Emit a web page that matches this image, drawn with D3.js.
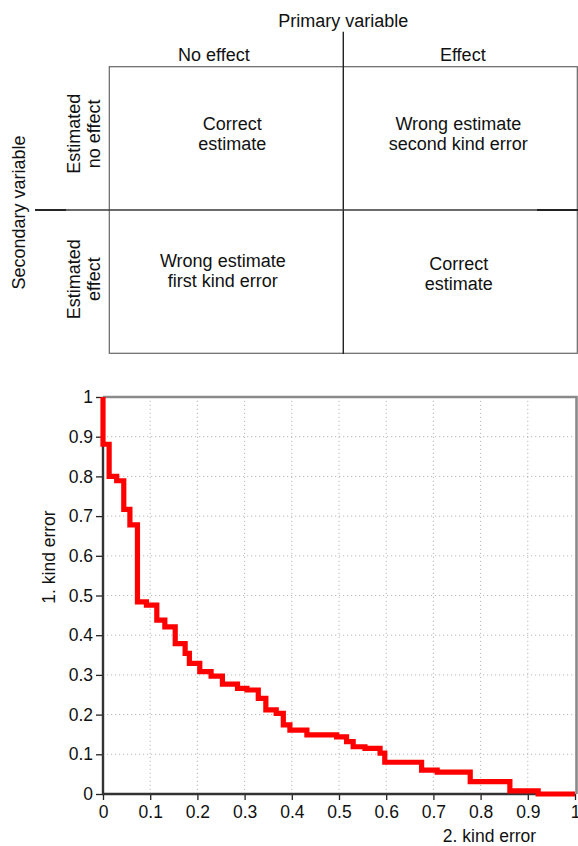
<!DOCTYPE html>
<html>
<head>
<meta charset="utf-8">
<script src="https://cdn.jsdelivr.net/npm/d3@7"></script>
<style>
  html, body { margin: 0; padding: 0; background: #fff; }
  svg { display: block; }
  text { font-family: "Liberation Sans", Arial, Helvetica, sans-serif; fill: #111; }
</style>
</head>
<body>
<script>
// ---------- data ----------
const primaryTitle = "Primary variable";
const secondaryTitle = "Secondary variable";
const columnLabels = ["No effect", "Effect"];
const rowLabels = [["Estimated", "no effect"], ["Estimated", "effect"]];
const cellTexts = [
  [["Correct", "estimate"], ["Wrong estimate", "second kind error"]],
  [["Wrong estimate", "first kind error"], ["Correct", "estimate"]]
];

const secondKindError = [0, 0, 0.013, 0.029, 0.044, 0.057, 0.073, 0.092, 0.114, 0.131, 0.153, 0.174, 0.183,
  0.205, 0.229, 0.253, 0.285, 0.305, 0.329, 0.345, 0.367, 0.382, 0.396, 0.432, 0.495,
  0.516, 0.530, 0.555, 0.587, 0.597, 0.675, 0.708, 0.778, 0.862, 0.922, 1.0];
const firstKindError = [1, 0.881, 0.800, 0.789, 0.717, 0.678, 0.484, 0.476, 0.438, 0.421, 0.379, 0.354, 0.329,
  0.308, 0.297, 0.277, 0.266, 0.262, 0.241, 0.212, 0.203, 0.174, 0.161, 0.149, 0.144,
  0.132, 0.119, 0.115, 0.103, 0.080, 0.060, 0.055, 0.031, 0.008, 0.000, 0.000];

const tickValues = [0, 0.1, 0.2, 0.3, 0.4, 0.5, 0.6, 0.7, 0.8, 0.9, 1];
const tickLabels = ["0", "0.1", "0.2", "0.3", "0.4", "0.5", "0.6", "0.7", "0.8", "0.9", "1"];
const xTitle = "2. kind error";
const yTitle = "1. kind error";

// ---------- svg ----------
const W = 578, H = 846;
const svg = d3.select("body").append("svg").attr("width", W).attr("height", H);

// ================= Top diagram =================
const fs = "18px";
const colScale = d3.scaleBand().domain([0, 1]).range([109.3, 577.3]);
const rowScale = d3.scaleBand().domain([0, 1]).range([66.7, 353.3]);
const topG = svg.append("g");

// box
topG.append("rect")
  .attr("x", colScale.range()[0]).attr("y", rowScale.range()[0])
  .attr("width", colScale.range()[1] - colScale.range()[0])
  .attr("height", rowScale.range()[1] - rowScale.range()[0])
  .attr("fill", "none").attr("stroke", "#666").attr("stroke-width", 1.2);

// dividers
const divX = colScale(1), divY = rowScale(1);
topG.append("line").attr("x1", divX).attr("x2", divX).attr("y1", 31.7).attr("y2", 354)
  .attr("stroke", "#222").attr("stroke-width", 1.4);
topG.append("line").attr("x1", 35).attr("x2", W).attr("y1", divY).attr("y2", divY)
  .attr("stroke", "#3a3a3a").attr("stroke-width", 1.5);
[[35, 66], [537, 578]].forEach(([a, b]) => {
  topG.append("line").attr("x1", a).attr("x2", b).attr("y1", divY).attr("y2", divY)
    .attr("stroke", "#222").attr("stroke-width", 1.9);
});

// titles
topG.append("text").attr("x", divX).attr("y", 26.5).attr("text-anchor", "middle")
  .style("font-size", fs).text(primaryTitle);
topG.append("text").attr("transform", `translate(25,212.5) rotate(-90)`)
  .attr("text-anchor", "middle").style("font-size", fs).text(secondaryTitle);

// column headers
const colHeaderDx = [-12.5, 2.5];
columnLabels.forEach((lab, i) => {
  topG.append("text")
    .attr("x", colScale(i) + colScale.bandwidth() / 2 + colHeaderDx[i])
    .attr("y", 60.5).attr("text-anchor", "middle").style("font-size", fs).text(lab);
});

// row headers (rotated, two lines)
const rowHeaderDy = [-4.5, -2.5];
rowLabels.forEach((lines, r) => {
  const cy = rowScale(r) + rowScale.bandwidth() / 2 + rowHeaderDy[r];
  lines.forEach((ln, k) => {
    topG.append("text")
      .attr("transform", `translate(${80 + k * 19.5},${cy}) rotate(-90)`)
      .attr("text-anchor", "middle").style("font-size", fs).text(ln);
  });
});

// cell texts
const cellOffsets = [[[6, -8], [-2, -8]], [[-3.5, -14.5], [-1.5, -11.5]]];
cellTexts.forEach((row, r) => {
  row.forEach((lines, c) => {
    const cx = colScale(c) + colScale.bandwidth() / 2 + cellOffsets[r][c][0];
    const cy = rowScale(r) + rowScale.bandwidth() / 2 + cellOffsets[r][c][1];
    lines.forEach((ln, k) => {
      topG.append("text").attr("x", cx).attr("y", cy + k * 20)
        .attr("text-anchor", "middle").style("font-size", fs).text(ln);
    });
  });
});

// ================= Bottom chart =================
const x = d3.scaleLinear().domain([0, 1]).range([103, 575]);
const y = d3.scaleLinear().domain([0, 1]).range([794, 397]);
const g = svg.append("g");

// grid
g.append("g").selectAll("line").data(tickValues.slice(1, -1)).join("line")
  .attr("x1", d => x(d)).attr("x2", d => x(d)).attr("y1", y(0)).attr("y2", y(1))
  .attr("stroke", "#b8b8b8").attr("stroke-width", 1).attr("stroke-dasharray", "1.2,2.8");
g.append("g").selectAll("line").data(tickValues.slice(1, -1)).join("line")
  .attr("y1", d => y(d)).attr("y2", d => y(d)).attr("x1", x(0)).attr("x2", x(1))
  .attr("stroke", "#b8b8b8").attr("stroke-width", 1).attr("stroke-dasharray", "1.2,2.8");

// top & right frame
g.append("path")
  .attr("d", `M${x(0)},${y(1)}H${x(1) + 1.5}V${y(0)}`)
  .attr("fill", "none").attr("stroke", "#8a8a8a").attr("stroke-width", 2.6);

// axes
const fmt = d => tickLabels[tickValues.indexOf(d)];
const xAxis = d3.axisBottom(x).tickValues(tickValues).tickFormat(fmt).tickSize(6).tickPadding(6);
const yAxis = d3.axisLeft(y).tickValues(tickValues).tickFormat(fmt).tickSize(7).tickPadding(3);

const gx = g.append("g").attr("transform", `translate(0,${y(0)})`).call(xAxis);
const gy = g.append("g").attr("transform", `translate(${x(0)},0)`).call(yAxis);
[gx, gy].forEach(a => {
  a.select(".domain").remove();
  a.selectAll(".tick line").attr("stroke", "#222").attr("stroke-width", 1.3);
  a.selectAll(".tick text").style("font-size", "17.5px")
    .style("font-family", "'Liberation Sans', Arial, sans-serif").attr("fill", "#111");
});
gx.selectAll(".tick text").attr("dy", "0.71em");

// axis lines
g.append("line").attr("x1", x(0)).attr("x2", x(0)).attr("y1", y(1)).attr("y2", y(0) + 1)
  .attr("stroke", "#333").attr("stroke-width", 2.4);
g.append("line").attr("x1", x(0) - 1).attr("x2", x(1)).attr("y1", y(0)).attr("y2", y(0))
  .attr("stroke", "#333").attr("stroke-width", 2.4);

// axis titles
g.append("text").attr("x", 489.5).attr("y", 842).attr("text-anchor", "middle")
  .style("font-size", "17.5px").text(xTitle);
g.append("text").attr("transform", "translate(55,557) rotate(-90)")
  .attr("text-anchor", "middle").style("font-size", "17.5px").text(yTitle);

// step curve
const pts = secondKindError.map((v, i) => [v, firstKindError[i]]);
const line = d3.line().x(d => x(d[0])).y(d => y(d[1])).curve(d3.curveStepAfter);
g.append("path").datum(pts).attr("d", line)
  .attr("fill", "none").attr("stroke", "#ff0000").attr("stroke-width", 5.2)
  .attr("stroke-linejoin", "miter").attr("stroke-linecap", "butt");
</script>
</body>
</html>
